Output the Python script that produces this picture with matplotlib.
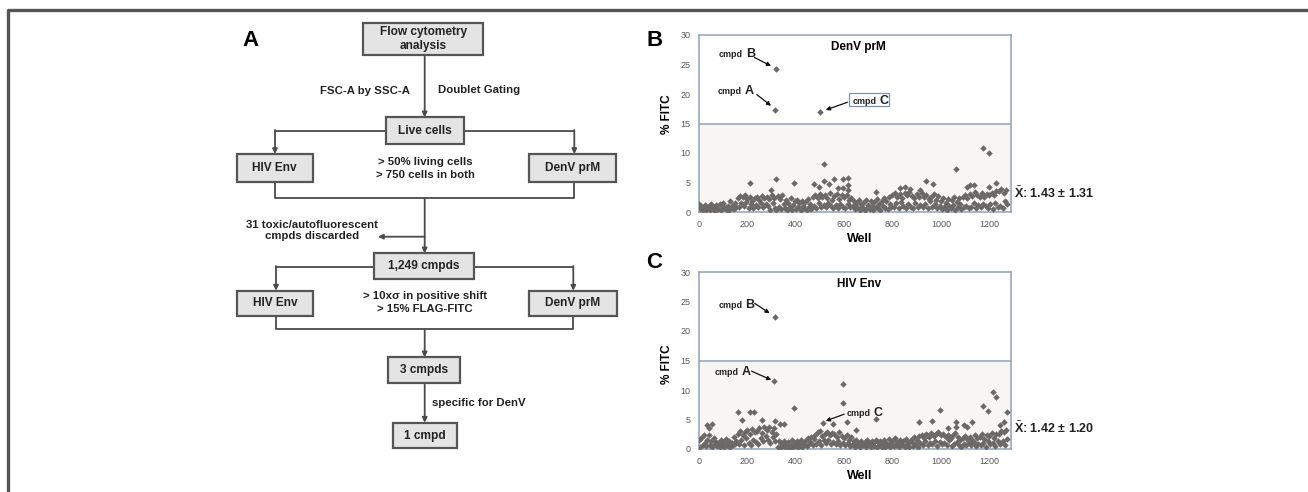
import numpy as np
import matplotlib
matplotlib.use('Agg')
import matplotlib.pyplot as plt
from matplotlib.patches import Rectangle
import matplotlib.transforms as mtransforms

plt.rcParams['font.family'] = ['Liberation Sans', 'DejaVu Sans']
plt.rcParams['mathtext.fontset'] = 'custom'
plt.rcParams['mathtext.bf'] = 'Liberation Sans:bold'
plt.rcParams['mathtext.rm'] = 'Liberation Sans'

# ---------------- data ----------------
band_wells = np.arange(0, 1280, 5)

denv_band = [
    1.4, 0.5, 1.1, 0.3, 0.9, 1.2, 0.4, 0.8,
    1.0, 0.3, 1.3, 0.6, 0.9, 0.2, 1.2, 0.7,
    0.5, 1.4, 0.3, 1.0, 1.6, 0.6, 0.9, 0.4,
    1.1, 0.3, 1.8, 0.7, 1.2, 0.5, 1.5, 0.9,
    2.3, 0.8, 2.7, 1.5, 2.5, 1.0, 2.8, 1.7,
    2.2, 0.7, 2.6, 1.4, 1.9, 0.6, 2.4, 1.2,
    2.5, 0.9, 2.0, 1.6, 2.7, 0.8, 2.3, 1.3,
    2.6, 1.1, 2.2, 0.4, 2.9, 1.5, 2.4, 0.6,
    0.3, 2.7, 0.9, 2.2, 0.5, 2.9, 1.4, 0.6,
    2.0, 0.4, 1.6, 0.9, 2.4, 0.3, 1.2, 1.8,
    0.5, 2.1, 0.8, 1.5, 0.3, 1.9, 1.1, 0.6,
    1.7, 0.4, 2.2, 0.9, 1.4, 0.5, 2.6, 1.0,
    2.8, 0.7, 2.3, 1.5, 3.1, 0.9, 2.5, 1.2,
    2.9, 0.8, 2.4, 1.6, 3.3, 1.0, 2.1, 0.6,
    2.7, 1.2, 3.0, 0.7, 2.2, 1.4, 2.9, 0.9,
    2.5, 0.6, 2.8, 1.3, 2.0, 0.8, 2.4, 1.1,
    1.9, 0.5, 1.5, 0.9, 2.1, 0.4, 1.3, 0.8,
    1.6, 0.3, 2.0, 0.7, 1.2, 0.5, 1.8, 1.0,
    0.4, 1.7, 0.8, 2.2, 0.6, 1.4, 0.3, 1.9,
    1.1, 2.4, 0.7, 1.8, 0.5, 2.6, 1.3, 0.9,
    2.9, 0.8, 3.3, 1.5, 2.6, 0.6, 3.1, 1.7,
    2.4, 1.0, 3.2, 0.7, 2.8, 1.4, 3.4, 0.9,
    2.7, 0.6, 2.3, 1.6, 3.0, 0.8, 2.5, 1.2,
    3.2, 0.9, 2.6, 1.4, 2.9, 0.7, 2.2, 1.8,
    2.5, 0.8, 3.0, 1.3, 2.1, 0.6, 2.7, 1.1,
    1.8, 0.5, 2.4, 0.9, 1.5, 0.4, 2.2, 1.0,
    0.6, 2.0, 1.2, 2.5, 0.4, 1.7, 0.9, 2.3,
    1.4, 0.5, 2.6, 0.8, 2.9, 1.1, 2.4, 0.6,
    3.1, 0.9, 2.7, 1.5, 3.4, 0.7, 2.9, 1.2,
    2.6, 0.8, 3.2, 1.4, 2.5, 1.0, 3.0, 0.6,
    2.8, 1.3, 3.3, 0.5, 2.9, 1.6, 3.6, 0.9,
    3.5, 1.1, 3.9, 0.7, 3.2, 1.8, 3.7, 1.3,
]

hiv_band = [
    1.5, 0.4, 1.8, 0.7, 2.3, 1.0, 0.5, 1.6,
    2.4, 0.6, 1.3, 0.3, 1.9, 0.8, 1.2, 0.5,
    1.0, 0.3, 1.5, 0.6, 1.2, 0.4, 1.7, 0.8,
    0.5, 1.4, 0.3, 1.1, 0.7, 2.0, 0.9, 1.3,
    2.6, 0.8, 3.0, 1.5, 2.4, 0.6, 2.9, 1.8,
    3.2, 1.1, 2.5, 0.7, 3.4, 1.6, 2.8, 1.2,
    3.0, 0.9, 3.6, 1.8, 2.7, 1.3, 3.8, 2.2,
    3.3, 1.5, 3.7, 1.1, 2.9, 2.0, 3.5, 1.4,
    2.6, 0.3, 1.4, 0.2, 1.0, 0.5, 1.3, 0.3,
    0.9, 0.4, 1.2, 0.2, 0.7, 1.5, 0.3, 1.0,
    0.5, 1.3, 0.3, 0.8, 1.6, 0.4, 1.1, 0.6,
    1.4, 0.5, 1.9, 0.8, 1.2, 2.1, 0.6, 1.7,
    2.4, 0.9, 2.8, 1.3, 3.1, 0.7, 2.2, 1.6,
    2.6, 1.0, 2.9, 1.5, 2.3, 0.8, 2.7, 1.2,
    2.5, 0.9, 2.0, 1.4, 2.8, 0.6, 2.2, 1.1,
    1.9, 0.7, 2.4, 1.0, 1.6, 0.5, 2.0, 0.8,
    1.3, 0.4, 1.6, 0.7, 1.1, 0.3, 1.4, 0.9,
    0.6, 1.2, 0.3, 1.5, 0.8, 1.0, 0.4, 1.3,
    1.1, 0.5, 1.6, 0.3, 1.2, 0.7, 1.4, 0.4,
    0.8, 1.5, 0.4, 1.1, 0.6, 1.7, 0.3, 1.0,
    1.4, 0.5, 1.8, 0.7, 1.2, 0.3, 1.6, 0.9,
    0.6, 1.3, 0.4, 1.7, 0.9, 1.1, 0.3, 1.5,
    1.2, 0.5, 2.0, 0.8, 1.6, 0.4, 2.2, 1.0,
    2.4, 0.7, 1.9, 1.3, 2.6, 0.6, 2.1, 1.1,
    2.7, 0.9, 2.2, 1.4, 2.5, 0.5, 2.8, 1.2,
    2.3, 0.8, 2.6, 1.0, 2.0, 0.6, 2.4, 1.5,
    1.8, 0.5, 2.3, 0.9, 2.7, 1.2, 2.0, 0.7,
    1.5, 0.4, 1.9, 0.8, 2.2, 0.6, 1.7, 1.1,
    2.1, 0.7, 1.6, 1.2, 2.4, 0.5, 1.8, 0.9,
    2.0, 0.6, 2.5, 1.0, 1.7, 0.4, 2.3, 1.3,
    2.2, 0.8, 2.7, 1.1, 1.9, 0.5, 2.6, 1.4,
    2.5, 0.9, 3.0, 1.3, 2.8, 0.6, 3.2, 1.7,
]

denv_out_wells = [317, 313, 502, 211, 317, 297, 393, 477, 497, 517, 517, 537, 557,
                  576, 597, 597, 618, 618, 618, 732, 832, 852, 873, 914, 937, 967,
                  1061, 1108, 1121, 1135, 1174, 1197, 1199, 1226]
denv_out_vals = [24.2, 17.3, 16.9, 5.0, 5.65, 3.7, 5.0, 4.7, 4.2, 8.2, 5.3, 4.7, 5.6,
                 4.1, 5.6, 4.1, 5.8, 4.5, 3.7, 3.4, 4.1, 4.2, 3.9, 3.7, 5.3, 4.7,
                 7.3, 4.2, 4.5, 4.6, 10.8, 10.0, 4.2, 5.0]

hiv_out_wells = [313, 312, 595, 595, 393, 160, 211, 229, 179, 259, 316, 334, 350,
                 32, 55, 43, 514, 552, 612, 651, 731, 908, 965, 997, 1031, 1063,
                 1063, 1094, 1108, 1129, 1174, 1193, 1214, 1226, 1273, 1259, 1245]
hiv_out_vals = [22.35, 11.5, 11.1, 7.75, 7.0, 6.2, 6.3, 6.3, 4.9, 4.9, 4.8, 4.2, 4.2,
                4.1, 4.2, 3.5, 4.35, 4.2, 4.5, 3.2, 5.1, 4.6, 4.8, 6.6, 3.5, 4.6,
                3.7, 4.1, 3.7, 4.6, 7.3, 6.5, 9.6, 8.8, 6.3, 4.5, 4.1]

denv_stats = "1.43 \u00b1 1.31"
hiv_stats = "1.42 \u00b1 1.20"
x_ticks = [0, 200, 400, 600, 800, 1000, 1200]
y_ticks = [0, 5, 10, 15, 20, 25, 30]
threshold = 15
x_max = 1290

# ---------------- figure ----------------
W, H = 1308, 492
fig = plt.figure(figsize=(W / 100, H / 100), dpi=100)

# overlay axes in pixel coordinates for the flow chart
ax0 = fig.add_axes([0, 0, 1, 1])
ax0.set_xlim(0, W)
ax0.set_ylim(H, 0)
ax0.axis('off')

LC = '#4a4a4a'
ax0.plot([8, 8, W], [H, 10, 10], color='#555555', lw=2.4, solid_capstyle='butt')

boxes = [
    ("Flow cytometry\nanalysis", 363.3, 22.7, 483.3, 55),
    ("Live cells", 385.7, 117.3, 464.3, 144),
    ("HIV Env", 236.7, 154, 312.7, 181.7),
    ("DenV prM", 529.3, 154, 616, 181.7),
    ("1,249 cmpds", 374.3, 253.3, 474, 279.3),
    ("HIV Env", 237.3, 290.7, 312.7, 316),
    ("DenV prM", 529.3, 290.7, 616.7, 316),
    ("3 cmpds", 388.3, 357.3, 460, 382.7),
    ("1 cmpd", 392.7, 422.7, 457.3, 448.3),
]
for txt, x0, y0, x1, y1 in boxes:
    ax0.add_patch(Rectangle((x0, y0), x1 - x0, y1 - y0, facecolor='#e4e4e4',
                            edgecolor='#555555', lw=1.6, zorder=3))
    ax0.text((x0 + x1) / 2, (y0 + y1) / 2, txt, ha='center', va='center',
             fontsize=8.6, weight='bold', color='#222222', zorder=4, linespacing=1.15)


def seg(xs, ys):
    ax0.plot(xs, ys, color=LC, lw=1.3, zorder=2, solid_capstyle='butt')


def arr(x0, y0, x1, y1):
    ax0.annotate('', xy=(x1, y1), xytext=(x0, y0),
                 arrowprops=dict(arrowstyle='-|>', color=LC, lw=1.3,
                                 mutation_scale=7, shrinkA=0, shrinkB=0), zorder=2)


cx = 424.7
arr(cx, 55, cx, 117.3)
seg([385.7, 275], [130.7, 130.7]); arr(275, 130, 275, 154)
seg([464.3, 574.3], [130.7, 130.7]); arr(574.3, 130, 574.3, 154)
seg([275, 275, 574.3, 574.3], [181.7, 198.3, 198.3, 181.7])
arr(cx, 198.3, cx, 253.3)
arr(cx, 236.7, 378, 236.7)
seg([374.3, 276], [266.7, 266.7]); arr(276, 266, 276, 290.7)
seg([474, 573.3], [266.7, 266.7]); arr(573.3, 266, 573.3, 290.7)
seg([276, 276, 573.3, 573.3], [316, 329.3, 329.3, 316])
arr(cx, 329.3, cx, 357.3)
arr(cx, 382.7, cx, 422.7)

tk = dict(fontsize=8.2, weight='bold', color='#222222')
ax0.text(410, 91, "FSC-A by SSC-A", ha='right', va='center', **tk)
ax0.text(438, 90, "Doublet Gating", ha='left', va='center', **tk)
ax0.text(425.7, 168.5, "> 50% living cells\n> 750 cells in both", ha='center',
         va='center', linespacing=1.35, **tk)
ax0.text(312, 230.5, "31 toxic/autofluorescent\ncmpds discarded", ha='center',
         va='center', linespacing=1.05, **tk)
ax0.text(425, 302.5, "> 10x\u03c3 in positive shift\n> 15% FLAG-FITC", ha='center',
         va='center', linespacing=1.45, **tk)
ax0.text(431.7, 403.3, "specific for DenV", ha='left', va='center', **tk)

# panel letters
fig.text(250.5 / W, 1 - 40 / H, "A", fontsize=16, weight='bold', ha='center', va='center')
fig.text(655 / W, 1 - 40 / H, "B", fontsize=16, weight='bold', ha='center', va='center')
fig.text(654 / W, 1 - 262 / H, "C", fontsize=16, weight='bold', ha='center', va='center')

SP = '#8fa2be'
MC = '#6b6865'
MS = 3.3


def panel(top_px, band, ow, ov, title, stats, stats_y, ylab_y, labels, arrows, boxed=None):
    ax = fig.add_axes([699 / W, 1 - (top_px + 177) / H, 312 / W, 177 / H])
    ax.set_xlim(0, x_max)
    ax.set_ylim(0, 30)
    ax.axhspan(0, threshold, color='#f7f6f2', zorder=0, lw=0)
    ax.axhline(threshold, color=SP, lw=1.1, zorder=1)
    for s in ax.spines.values():
        s.set_color(SP)
        s.set_linewidth(1.1)
    ax.plot(band_wells, band, ls='none', marker='D', ms=MS, color=MC, mec='none', zorder=3)
    ax.plot(ow, ov, ls='none', marker='D', ms=MS, color=MC, mec='none', zorder=3)
    ax.set_xticks(x_ticks)
    ax.set_yticks(y_ticks)
    ax.tick_params(length=0, labelsize=6.5, labelcolor='#595959')
    ax.tick_params(axis='y', pad=6)
    ax.tick_params(axis='x', pad=6)
    ax.set_ylabel("% FITC", fontsize=8.5, weight='bold')
    ax.yaxis.set_label_coords(-0.083, ylab_y)
    ax.set_xlabel("Well", fontsize=9, weight='bold')
    ax.xaxis.set_label_coords(0.516, -0.15)
    ax.xaxis.label.set_va('center')
    ax.text(660, 27.9, title, ha='center', va='center', fontsize=8.5, weight='bold')
    tr = mtransforms.blended_transform_factory(ax.transAxes, ax.transData)
    ax.text(1.01, stats_y, r'$\bar{\mathbf{X}}$: ' + stats, transform=tr, ha='left',
            va='center', fontsize=9, weight='bold', color='#222222')
    for well, base, letter in labels:
        ax.annotate("cmpd", xy=(well, base), ha='right', va='baseline', fontsize=6.5,
                    weight='bold', color='#222222')
        ax.annotate(letter, xy=(well, base), xytext=(2, 0), textcoords='offset points',
                    ha='left', va='baseline', fontsize=9, weight='bold', color='#222222')
    for (x0, y0, x1, y1) in arrows:
        ax.annotate('', xy=(x1, y1), xytext=(x0, y0),
                    arrowprops=dict(arrowstyle='-|>', color='#111111', lw=0.9,
                                    mutation_scale=6, shrinkA=0, shrinkB=0))
    if boxed is not None:
        bx0, by0, bx1, by1 = boxed
        ax.add_patch(Rectangle((bx0, by0), bx1 - bx0, by1 - by0, fill=False,
                               edgecolor='#7f93b0', lw=0.9, zorder=4))
    return ax


panel(35, denv_band, denv_out_wells, denv_out_vals, "DenV prM", denv_stats, 3.2, 0.55,
      labels=[(182, 26.35, "B"), (177, 20.0, "A"), (735, 18.3, "C")],
      arrows=[(229, 26.2, 298, 24.75), (239, 19.9, 298, 18.0), (614, 18.6, 524, 17.3)],
      boxed=(622, 17.97, 787, 20.1))

panel(272, hiv_band, hiv_out_wells, hiv_out_vals, "HIV Env", hiv_stats, 3.5, 0.48,
      labels=[(181, 23.95, "B"), (164, 12.5, "A"), (708, 5.6, "C")],
      arrows=[(230, 24.7, 292, 23.0), (217, 13.2, 299, 11.7), (600, 5.9, 524, 4.75)])

fig.savefig('out.png', dpi=100)
